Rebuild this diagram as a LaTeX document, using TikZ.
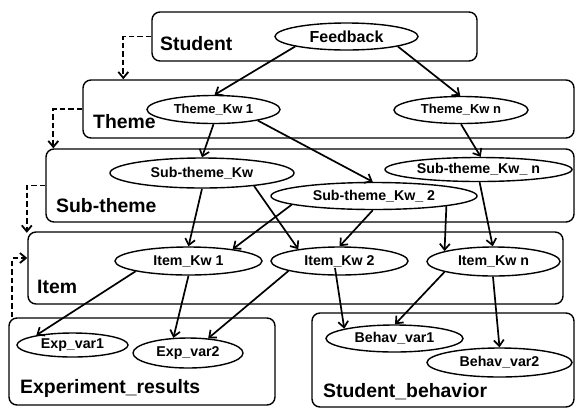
\documentclass[tikz,border=0pt]{standalone}
\usepackage{fontspec}
\setmainfont{Liberation Sans}
\usetikzlibrary{shapes.geometric,arrows.meta,calc}
\begin{document}
\begin{tikzpicture}[x=1pt,y=-1pt,
  box/.style={draw, rounded corners=8pt, line width=1.4pt, inner sep=0pt},
  kw/.style={draw, ellipse, fill=white, line width=1.4pt, inner sep=0pt,
    font=\bfseries\fontsize{14.2}{16}\selectfont},
  lbl/.style={anchor=base west, inner sep=0pt,
    font=\bfseries\fontsize{19.4}{21}\selectfont},
  tip/.style={-{Straight Barb[length=6pt,width=10pt]}},
  arr/.style={line width=1.7pt, tip},
  dsh/.style={line width=1.8pt, dash pattern=on 5.5pt off 3pt, tip}]
\useasboundingbox (0,0) rectangle (575,408);
% boxes
\node[box, minimum width=325pt, minimum height=49pt] (sbox) at (314.5,36.5) {};
\node[box, minimum width=491pt, minimum height=58pt] (tbox) at (328.5,109) {};
\node[box, minimum width=528pt, minimum height=73pt] (stbox) at (310,185.5) {};
\node[box, minimum width=535pt, minimum height=72pt] (ibox) at (295.5,268) {};
\node[box, minimum width=266pt, minimum height=87pt] (ebox) at (142,361.5) {};
\node[box, minimum width=262pt, minimum height=94pt] (sbbox) at (443,360) {};
% labels
\node[lbl] (lstud) at (160,50) {Student};
\node[lbl] (ltheme) at (93,128) {Theme};
\node[lbl] (lsub) at (56,212) {Sub-theme};
\node[lbl] (litem) at (37,293) {Item};
\node[lbl] (lexp) at (20,393) {Experiment\_results};
\node[lbl] (lbeh) at (323,397) {Student\_behavior};
% ellipses
\node[kw, minimum width=143pt, minimum height=27pt, font=\bfseries\fontsize{16}{18}\selectfont] (fb) at (346.5,36.5) {Feedback};
\node[kw, minimum width=133pt, minimum height=28pt, font=\bfseries\fontsize{13}{15}\selectfont] (tk1) at (213.5,109.5) {Theme\_Kw 1};
\node[kw, minimum width=134pt, minimum height=27pt, font=\bfseries\fontsize{13}{15}\selectfont] (tkn) at (461,110) {Theme\_Kw n};
\node[kw, minimum width=184pt, minimum height=30pt] (stk) at (202,173) {Sub-theme\_Kw};
\node[kw, minimum width=206pt, minimum height=27pt] (st2) at (374,196) {Sub-theme\_Kw\_ 2};
\node[kw, minimum width=187pt, minimum height=24pt] (stn) at (478.5,169.5) {Sub-theme\_Kw\_ n};
\node[kw, minimum width=147pt, minimum height=28pt] (ik1) at (188.5,261) {Item\_Kw 1};
\node[kw, minimum width=137pt, minimum height=28pt] (ik2) at (339.5,261) {Item\_Kw 2};
\node[kw, minimum width=133pt, minimum height=29pt] (ikn) at (493.5,261.5) {Item\_Kw n};
\node[kw, minimum width=111pt, minimum height=24pt] (ev1) at (72.5,345) {Exp\_var1};
\node[kw, minimum width=110pt, minimum height=30pt] (ev2) at (188,353) {Exp\_var2};
\node[kw, minimum width=137pt, minimum height=27pt] (bv1) at (394.5,338.5) {Behav\_var1};
\node[kw, minimum width=145pt, minimum height=29pt] (bv2) at (499.5,362.5) {Behav\_var2};
% dashed connectors
\draw[dsh] (sbox.west) -| ($(tbox.north west)+(41,0)$);
\draw[dsh] (tbox.west) -| ($(stbox.north west)+(8,0)$);
\draw[dsh] (stbox.west) -| ($(ibox.north west)+(-0.5,1.5)$);
\draw[dsh] ($(ebox.north west)+(4,0)$) |- ($(ibox.west)+(0,-10)$);
% solid arrows
\draw[arr] (fb.191) -- (tk1.86);
\draw[arr] (fb.-11.5) -- (tkn.93);
\draw[arr] (tk1.-90) -- (stk.90);
\draw[arr] (tk1.-14) -- (st2.95);
\draw[arr] (tkn.-90) -- (stn.80);
\draw[arr] (stk.-90) -- (ik1.90);
\draw[arr] (stk.-14.6) -- (ik2.164.5);
\draw[arr] (st2.186.75) -- (ik1.15.2);
\draw[arr] (st2.-95) -- (ik2.90);
\draw[arr] (st2.-8.1) -- (ikn.168.5);
\draw[arr] (stn.-85) -- (ikn.93);
\draw[arr] (ik1.191.6) -- (ev1.165);
\draw[arr] (ik1.-90) -- (ev2.134);
\draw[arr] (ik2.-169.4) -- (ev2.36.6);
\draw[arr] ($(ik2.center)+(-4.5,7)$) -- (bv1.169.8);
\draw[arr] (ikn.-168.5) -- (bv1.88);
\draw[arr] (ikn.-92) -- (bv2.90);
\end{tikzpicture}
\end{document}
